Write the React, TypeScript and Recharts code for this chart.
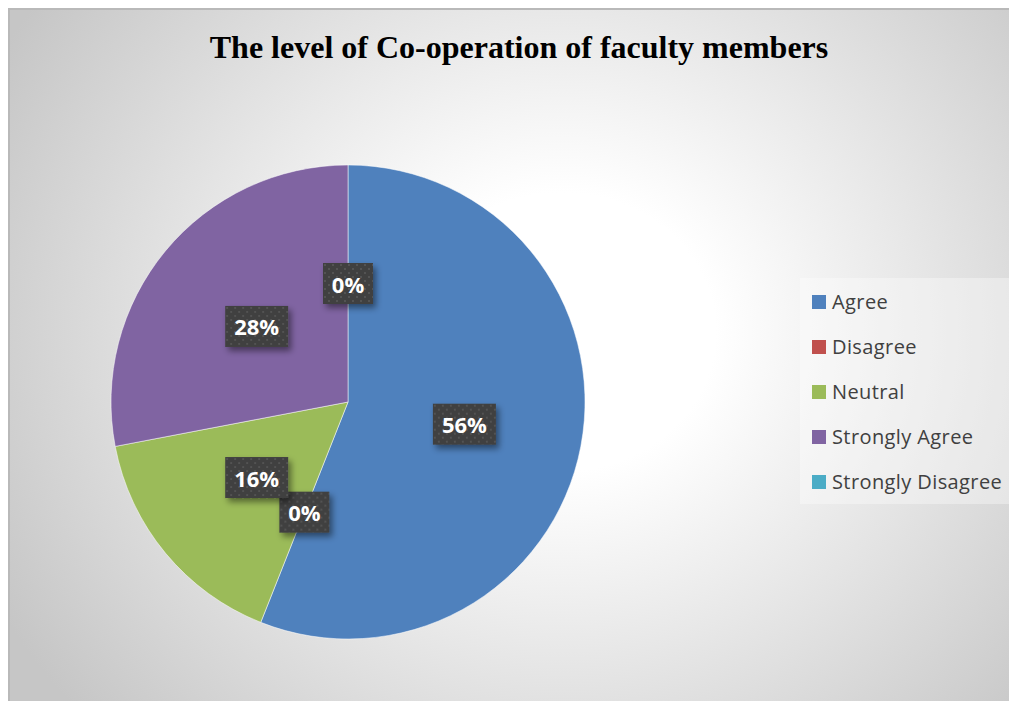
import React from 'react';
import { PieChart, Pie, Cell, Legend } from 'recharts';

const categories = ['Agree', 'Disagree', 'Neutral', 'Strongly Agree', 'Strongly Disagree'];
const values = [56, 0, 16, 28, 0];
const labels = ['56%', '0%', '16%', '28%', '0%'];
const colors = ['#4F81BD', '#C0504D', '#9BBB59', '#8064A2', '#4BACC6'];

const data = categories.map((name, i) => ({ name, value: values[i], label: labels[i] }));

const W = 1009;
const H = 701;
const CX = 340;
const CY = 394;
const R = 237;
const RAD = Math.PI / 180;

const renderLabel = (props: any) => {
  const { cx, cy, midAngle, outerRadius, index } = props;
  const r = outerRadius * 0.5;
  const x = cx + r * Math.cos(-midAngle * RAD);
  const y = cy + r * Math.sin(-midAngle * RAD);
  const text = data[index].label;
  const bw = text.length >= 3 ? 63 : 50;
  const bh = 41;
  return (
    <g key={`lbl-${index}`}>
      <defs>
        <pattern id={`dots-${index}`} x={x - bw / 2} y={y - bh / 2} width={8} height={8} patternUnits="userSpaceOnUse">
          <rect x={0} y={0} width={8} height={8} fill="#404040" />
          <rect x={1} y={1} width={2} height={2} fill="#525252" />
          <rect x={5} y={5} width={2} height={2} fill="#525252" />
        </pattern>
        <filter id={`shadow-${index}`} x="-30%" y="-30%" width="170%" height="170%">
          <feDropShadow dx={3} dy={4} stdDeviation={3} floodColor="#000" floodOpacity={0.45} />
        </filter>
      </defs>
      <rect
        x={x - bw / 2}
        y={y - bh / 2}
        width={bw}
        height={bh}
        fill={`url(#dots-${index})`}
        filter={`url(#shadow-${index})`}
      />
      <text
        x={x}
        y={y}
        fill="#ffffff"
        textAnchor="middle"
        dominantBaseline="central"
        fontFamily="'Open Sans', sans-serif"
        fontWeight={700}
        fontSize={22}
      >
        {text}
      </text>
    </g>
  );
};

const renderLegend = (props: any) => {
  const { payload } = props;
  return (
    <div
      style={{
        width: 213,
        height: 226,
        background: 'rgba(255,255,255,0.35)',
        boxSizing: 'border-box',
        paddingTop: 1,
      }}
    >
      {(payload || []).map((entry: any, i: number) => (
        <div
          key={`leg-${i}`}
          style={{
            height: 45,
            display: 'flex',
            alignItems: 'center',
            fontFamily: "'Open Sans', sans-serif",
            fontSize: 20,
            letterSpacing: 0.4,
            color: '#404040',
            whiteSpace: 'nowrap',
          }}
        >
          <span
            style={{
              display: 'inline-block',
              width: 14,
              height: 14,
              background: entry.color,
              marginLeft: 12,
              marginRight: 6,
            }}
          />
          <span>{entry.value}</span>
        </div>
      ))}
    </div>
  );
};

export default function App() {
  return (
    <div
      style={{
        position: 'relative',
        width: W,
        height: H,
        marginBottom: -8,
        boxSizing: 'border-box',
        borderTop: '2px solid #b9b9b9',
        borderLeft: '2px solid #b9b9b9',
        background:
          'radial-gradient(ellipse 640px 580px at 552px 322px, #ffffff 0%, #ffffff 24%, #e8e8e8 55%, #c6c6c6 100%)',
      }}
    >
      <div style={{ position: 'absolute', left: -2, top: -2 }}>
        <PieChart width={W} height={H} margin={{ top: 0, right: 0, bottom: 0, left: 0 }}>
          <text
            x={511}
            y={50}
            textAnchor="middle"
            fontFamily="'Liberation Serif', 'Times New Roman', serif"
            fontWeight={700}
            fontSize={32}
            fill="#000000"
          >
            The level of Co-operation of faculty members
          </text>
          <Pie
            data={data}
            dataKey="value"
            nameKey="name"
            cx={CX}
            cy={CY}
            outerRadius={R}
            startAngle={90}
            endAngle={-270}
            stroke="#ffffff"
            strokeOpacity={0.5}
            strokeWidth={1}
            label={renderLabel}
            labelLine={false}
            isAnimationActive={false}
          >
            {data.map((d, i) => (
              <Cell key={`cell-${i}`} fill={colors[i]} />
            ))}
          </Pie>
          <Legend
            content={renderLegend}
            layout="vertical"
            wrapperStyle={{ position: 'absolute', left: 792, top: 270, width: 213, height: 226 }}
          />
        </PieChart>
      </div>
    </div>
  );
}
